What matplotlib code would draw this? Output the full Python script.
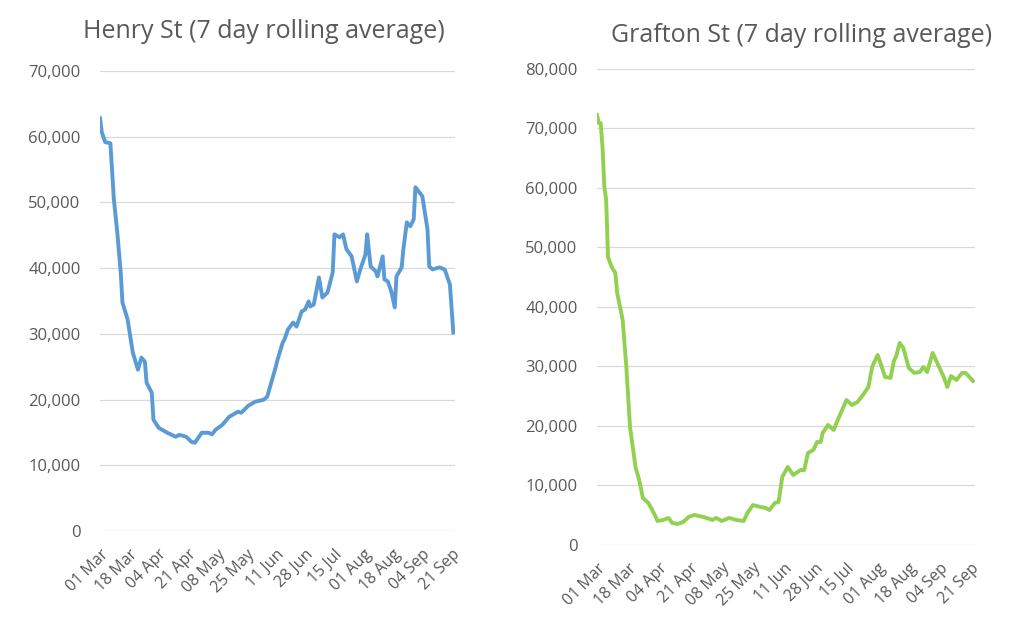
#importing the required libraries
import pandas as pd
from matplotlib import pyplot as plt
import matplotlib.dates as mdates
from matplotlib.ticker import FuncFormatter

# days counted from 01 Mar 2020
henry_day = [0, 1, 3, 6, 8, 10, 12, 13, 16, 19, 22, 24, 26, 27, 30, 31, 34, 39, 44, 46,
             50, 53, 55, 59, 63, 65, 67, 71, 75, 80, 82, 86, 90, 95, 97, 102, 103, 106, 107, 109,
             112, 114, 117, 119, 121, 122, 124, 127, 129, 132, 135, 136, 139, 141, 143, 146, 149, 151, 154, 155,
             157, 160, 161, 164, 165, 167, 169, 171, 172, 175, 176, 178, 180, 182, 183, 187, 190, 191, 193, 197,
             200, 203, 205]
henry_val = [62800, 60700, 59170, 59000, 50480, 45450, 39350, 34770, 32180, 27150, 24550, 26380, 25770, 22570, 21050, 16930, 15710, 14950, 14340, 14640,
             14340, 13570, 13420, 14950, 14950, 14700, 15400, 16170, 17390, 18150, 18000, 19060, 19670, 19980, 20440, 25010, 26080, 28670, 29130, 30650,
             31720, 31110, 33400, 33700, 34920, 34160, 34470, 38580, 35530, 36300, 39350, 45140, 44690, 45140, 42850, 41790, 37970, 39800, 42090, 45140,
             40260, 39500, 38740, 41790, 38280, 37970, 36450, 34010, 38740, 40110, 42850, 46970, 46360, 47430, 52310, 50940, 45900, 40260, 39800, 40110,
             39800, 37510, 30200]

grafton_day = [0, 1, 2, 3, 4, 5, 6, 8, 10, 11, 14, 16, 18, 21, 23, 25, 28, 31, 33, 36,
               39, 41, 44, 47, 50, 53, 58, 63, 65, 68, 72, 76, 80, 82, 85, 89, 92, 94, 97, 99,
               101, 104, 107, 111, 113, 115, 118, 120, 122, 123, 126, 129, 132, 136, 139, 142, 145, 148, 150, 153,
               154, 157, 160, 162, 163, 165, 167, 170, 173, 176, 178, 180, 183, 186, 189, 191, 193, 196, 199, 201,
               205]
grafton_val = [72270, 70920, 70900, 66890, 60170, 58000, 48400, 46720, 45710, 42350, 37810, 29920, 19830, 13110, 10920, 7900, 7060, 5380, 4030, 4200,
               4540, 3700, 3530, 3870, 4710, 5040, 4710, 4200, 4540, 4030, 4540, 4200, 4030, 5380, 6720, 6390, 6220, 5880, 7060, 7230,
               11430, 13110, 11760, 12600, 12600, 15460, 15970, 17310, 17310, 18820, 20170, 19330, 21510, 24370, 23530, 24030, 25210, 26550, 29920, 31930,
               31090, 28240, 28070, 31090, 31600, 33950, 33110, 29750, 28910, 29080, 29920, 29080, 32270, 30250, 28240, 26550, 28400, 27730, 28910, 28910,
               27560]

start = pd.Timestamp('2020-03-01')
end = pd.Timestamp('2020-09-23')
tick_dates = pd.date_range(start, '2020-09-21', freq='17D')

grey = '#595959'
plt.rcParams['font.family'] = ['Open Sans', 'DejaVu Sans']

fig = plt.figure(figsize=(10.24, 6.32), dpi=100)

def draw_panel(rect, days, vals, colour, ymax, title, title_x, title_y):
    ax = fig.add_axes(rect)
    dates = start + pd.to_timedelta(days, unit='D')
    ax.plot(dates, vals, color=colour, linewidth=2.8, solid_joinstyle='round')
    ax.set_xlim(start, end)
    ax.set_ylim(0, ymax)
    ax.set_yticks(range(0, ymax + 1, 10000))
    ax.yaxis.set_major_formatter(FuncFormatter(lambda v, p: f'{int(v):,}'))
    ax.set_xticks(tick_dates)
    ax.xaxis.set_major_formatter(mdates.DateFormatter('%d %b'))
    ax.grid(axis='y', color='#d9d9d9', linewidth=0.9)
    ax.set_axisbelow(True)
    for s in ax.spines.values():
        s.set_visible(False)
    ax.tick_params(axis='both', length=0, colors=grey, labelsize=12)
    ax.tick_params(axis='x', labelsize=11.5, pad=11)
    ax.tick_params(axis='y', pad=14)
    for lab in ax.get_xticklabels():
        lab.set_rotation(45)
        lab.set_ha('right')
        lab.set_rotation_mode('anchor')
    fig.text(title_x, title_y, title, ha='center', va='center', color=grey, fontsize=18)
    return ax

draw_panel([0.0977, 0.1598, 0.3467, 0.7279], henry_day, henry_val, '#5b9bd5', 70000,
           'Henry St (7 day rolling average)', 264 / 1024, 1 - 31 / 632)
draw_panel([0.583, 0.1377, 0.369, 0.7532], grafton_day, grafton_val, '#92d050', 80000,
           'Grafton St (7 day rolling average)', 802 / 1024, 1 - 35 / 632)

plt.savefig('out.png', dpi=100)
